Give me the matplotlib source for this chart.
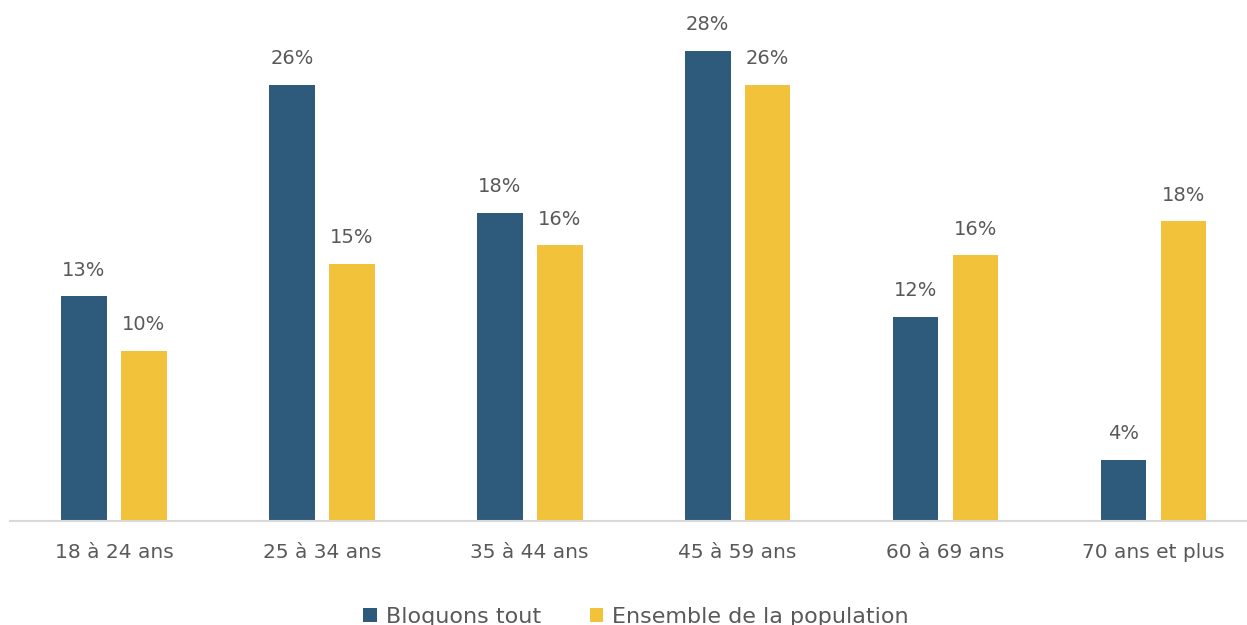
import matplotlib.pyplot as plt
import numpy as np

categories = ["18 à 24 ans", "25 à 34 ans", "35 à 44 ans", "45 à 59 ans", "60 à 69 ans", "70 ans et plus"]
bloquons = [13.2, 25.6, 18.1, 27.6, 12.0, 3.6]
ensemble = [10.0, 15.1, 16.2, 25.6, 15.6, 17.6]
series_names = ["Bloquons tout", "Ensemble de la population"]

BLUE = "#2E5B7C"
YELLOW = "#F2C23A"
TEXT = "#595959"

plt.rcParams['font.family'] = ['DejaVu Sans']

fig = plt.figure(figsize=(12.47, 6.25), dpi=100)
ax = fig.add_axes([0.008, 0.1664, 0.992, 0.8336])

x = np.arange(len(categories))
w = 0.22
off = 0.144
b1 = ax.bar(x - off, bloquons, w, color=BLUE, label=series_names[0])
b2 = ax.bar(x + off, ensemble, w, color=YELLOW, label=series_names[1])

for bars, vals in ((b1, bloquons), (b2, ensemble)):
    for rect, v in zip(bars, vals):
        ax.annotate(f"{v:.0f}%", (rect.get_x() + rect.get_width() / 2, v),
                    xytext=(0, 12), textcoords="offset points",
                    ha="center", va="bottom", fontsize=14, color=TEXT)

ax.set_xlim(-0.5, 5.45)
ax.set_ylim(0, 30.6)
ax.set_xticks(x)
ax.set_xticklabels(categories, fontsize=14.5, color=TEXT)
ax.tick_params(axis="x", length=0, pad=16)
ax.set_yticks([])
for s in ["top", "right", "left"]:
    ax.spines[s].set_visible(False)
ax.spines["bottom"].set_color("#D9D9D9")
ax.spines["bottom"].set_linewidth(1.5)

fig.legend(loc="lower center", bbox_to_anchor=(0.51, -0.035), ncol=2, frameon=False,
           fontsize=16, labelcolor=TEXT, handlelength=0.6, handleheight=0.6,
           handletextpad=0.4, columnspacing=2.2)

fig.savefig("out.png", dpi=100)
